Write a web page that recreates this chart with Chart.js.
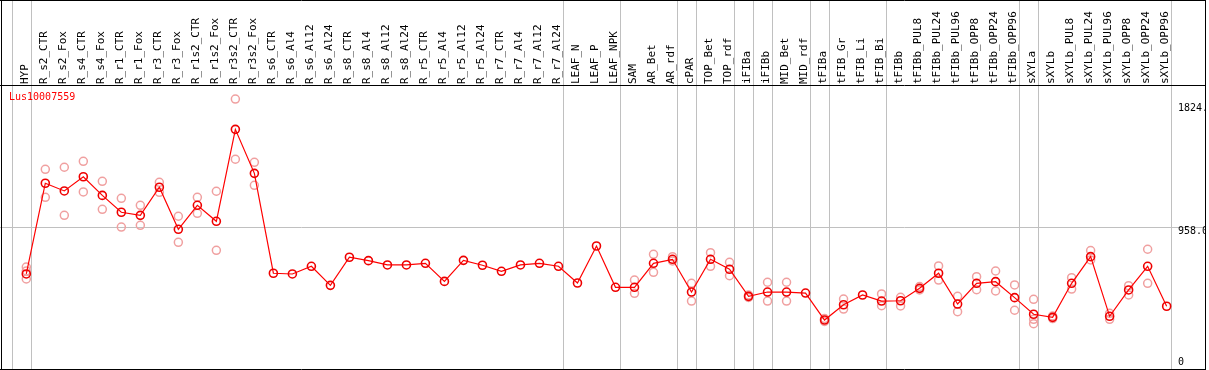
<!DOCTYPE html>
<html>
<head>
<meta charset="utf-8">
<title>Lus10007559</title>
<script src="https://cdn.jsdelivr.net/npm/chart.js@4.4.1/dist/chart.umd.min.js"></script>
<style>
  html, body { margin: 0; padding: 0; background: #fff; overflow: hidden; }
  #wrap { position: relative; width: 1206px; height: 370px; }
</style>
</head>
<body>
<div id="wrap"><canvas id="myChart"></canvas></div>
<script>
const geneName = 'Lus10007559';

const categories = ['HYP', 'R_s2_CTR', 'R_s2_Fox', 'R_s4_CTR', 'R_s4_Fox', 'R_r1_CTR', 'R_r1_Fox', 'R_r3_CTR', 'R_r3_Fox',
    'R_r1s2_CTR', 'R_r1s2_Fox', 'R_r3s2_CTR', 'R_r3s2_Fox', 'R_s6_CTR', 'R_s6_Al4', 'R_s6_Al12', 'R_s6_Al24',
    'R_s8_CTR', 'R_s8_Al4', 'R_s8_Al12', 'R_s8_Al24', 'R_r5_CTR', 'R_r5_Al4', 'R_r5_Al12', 'R_r5_Al24',
    'R_r7_CTR', 'R_r7_Al4', 'R_r7_Al12', 'R_r7_Al24', 'LEAF_N', 'LEAF_P', 'LEAF_NPK', 'SAM', 'AR_Bet', 'AR_rdf',
    'cPAR', 'TOP_Bet', 'TOP_rdf', 'iFIBa', 'iFIBb', 'MID_Bet', 'MID_rdf', 'tFIBa', 'tFIB_Gr', 'tFIB_Li', 'tFIB_Bi',
    'tFIBb', 'tFIBb_PUL8', 'tFIBb_PUL24', 'tFIBb_PUL96', 'tFIBb_OPP8', 'tFIBb_OPP24', 'tFIBb_OPP96',
    'sXYLa', 'sXYLb', 'sXYLb_PUL8', 'sXYLb_PUL24', 'sXYLb_PUL96', 'sXYLb_OPP8', 'sXYLb_OPP24', 'sXYLb_OPP96'];

// mean expression (red line)
const meanValues = [642, 1255, 1203, 1299, 1173, 1059, 1038, 1228, 944, 1106, 998, 1619, 1322,
    647, 642, 694, 565, 755, 732, 703, 703, 714, 592, 734, 701, 660, 703, 714, 694,
    581, 831, 552, 552, 714, 741, 520, 741, 674, 491, 520, 520, 513,
    331, 434, 500, 459, 461, 545, 647, 439, 579, 590, 482,
    370, 349, 579, 759, 356, 534, 694, 424];

// replicates (pink circles)
const rep1 = [689, 1349, 1363, 1403, 1268, 1153, 1106, 1261, 1032, 1160, 1201, 1824, 1396,
    null, null, null, null, null, null, null, null, null, null, null, null, null, null, null, null,
    null, null, null, 601, 775, 759, 579, 786, 721, 500, 586, 586, null,
    341, 473, null, 507, 484, 557, 696, 491, 624, 662, 568,
    471, 358, 617, 800, 376, 563, 809, null];
const rep2 = [608, 1160, 1038, 1196, 1079, 959, 971, 1194, 856, 1052, 802, 1417, 1241,
    null, null, null, null, null, null, null, null, null, null, null, null, null, null, null, null,
    null, null, null, 511, 653, 730, 459, 694, 630, 483, 459, 459, null,
    321, 405, null, 428, 426, 534, 601, 387, 536, 527, 397,
    336, 341, 540, 737, 336, 500, 579, null];
const rep3 = [662, null, null, null, null, null, null, null, null, null, null, null, null,
    null, null, null, null, null, null, null, null, null, null, null, null, null, null, null, null,
    null, null, null, null, null, null, null, null, null, null, null, null, null,
    null, null, null, null, null, null, null, null, null, null, null,
    306, null, null, null, null, null, null, null];

// last category index of each tissue group (grey separators)
const groupBreaks = [-1, 0, 28, 31, 34, 35, 37, 38, 39, 41, 42, 45, 52, 53, 60];

const yTickValues = [0, 958, 1824];
const yTickLabels = ['0', '958.0', '1824.0'];

function toPoints(arr) {
    return arr.map((v, i) => ({ x: i, y: v })).filter(p => p.y !== null);
}

const monoFont = '"DejaVu Sans Mono", "Liberation Mono", monospace';

const framePlugin = {
    id: 'frame',
    beforeDraw(chart) {
        const { ctx, chartArea, scales: { x, y } } = chart;
        ctx.save();
        ctx.strokeStyle = '#c0c0c0';
        ctx.lineWidth = 1;
        groupBreaks.forEach(b => {
            const px = Math.round(x.getPixelForValue(b + 0.23)) + 0.5;
            ctx.beginPath();
            ctx.moveTo(px, 0);
            ctx.lineTo(px, chartArea.bottom);
            ctx.stroke();
        });
        const gy = Math.round(y.getPixelForValue(958)) + 0.5;
        ctx.beginPath();
        ctx.moveTo(chartArea.left, gy);
        ctx.lineTo(chartArea.right, gy);
        ctx.stroke();
        ctx.restore();
    },
    afterDraw(chart) {
        const { ctx, chartArea, scales: { y } } = chart;
        ctx.save();
        ctx.font = '10px ' + monoFont;
        ctx.textBaseline = 'middle';
        ctx.textAlign = 'left';
        ctx.fillStyle = '#ff0000';
        ctx.fillText(geneName, 9, chartArea.top + 11);
        ctx.fillStyle = '#000';
        yTickValues.forEach((v, i) => {
            let py = y.getPixelForValue(v) + 4;
            py = Math.min(Math.max(py, chartArea.top + 22), chartArea.bottom - 7);
            ctx.fillText(yTickLabels[i], 1178, py);
        });
        // frame
        ctx.strokeStyle = '#000';
        ctx.lineWidth = 1;
        ctx.beginPath();
        ctx.moveTo(0, 0.5); ctx.lineTo(1206, 0.5);
        ctx.moveTo(0, chartArea.top - 0.5); ctx.lineTo(1206, chartArea.top - 0.5);
        ctx.moveTo(0, chartArea.bottom + 0.5); ctx.lineTo(1206, chartArea.bottom + 0.5);
        ctx.moveTo(1.5, 0); ctx.lineTo(1.5, 370);
        ctx.moveTo(1205.5, 0); ctx.lineTo(1205.5, 370);
        ctx.stroke();
        ctx.restore();
    }
};

const repStyle = {
    showLine: false,
    pointRadius: 4,
    pointBorderWidth: 1.5,
    pointBorderColor: '#f0a0a0',
    pointBackgroundColor: 'rgba(0,0,0,0)',
    borderColor: '#f0a0a0'
};

const ctx = document.getElementById('myChart').getContext('2d');

const chart = new Chart(ctx, {
    type: 'line',
    data: {
        datasets: [{
            label: geneName,
            data: toPoints(meanValues),
            borderColor: '#ff0000',
            borderWidth: 1.2,
            pointRadius: 4,
            pointBorderWidth: 1.6,
            pointBorderColor: '#ee0000',
            pointBackgroundColor: 'rgba(0,0,0,0)',
            tension: 0
        },
        Object.assign({ label: 'rep1', data: toPoints(rep1) }, repStyle),
        Object.assign({ label: 'rep2', data: toPoints(rep2) }, repStyle),
        Object.assign({ label: 'rep3', data: toPoints(rep3) }, repStyle)]
    },
    options: {
        responsive: true,
        maintainAspectRatio: false,
        animation: false,
        layout: { autoPadding: false, padding: { left: 0, right: 0, top: 0, bottom: 1 } },
        plugins: {
            legend: { display: false },
            tooltip: { enabled: false }
        },
        scales: {
            x: {
                type: 'linear',
                position: 'top',
                min: -1.384,
                max: 62.07,
                afterBuildTicks: scale => {
                    scale.ticks = categories.map((c, i) => ({ value: i }));
                },
                afterFit: scale => {
                    scale.height = 86;
                    scale.paddingLeft = 0;
                    scale.paddingRight = 0;
                },
                grid: { display: false, drawTicks: false },
                border: { display: false },
                ticks: {
                    autoSkip: false,
                    minRotation: 90,
                    maxRotation: 90,
                    padding: 2,
                    labelOffset: 12,
                    color: '#000',
                    font: { family: monoFont, size: 11 },
                    callback: v => categories[v]
                }
            },
            y: {
                display: false,
                min: 0,
                max: 1912
            }
        }
    },
    plugins: [framePlugin]
});
</script>
</body>
</html>
